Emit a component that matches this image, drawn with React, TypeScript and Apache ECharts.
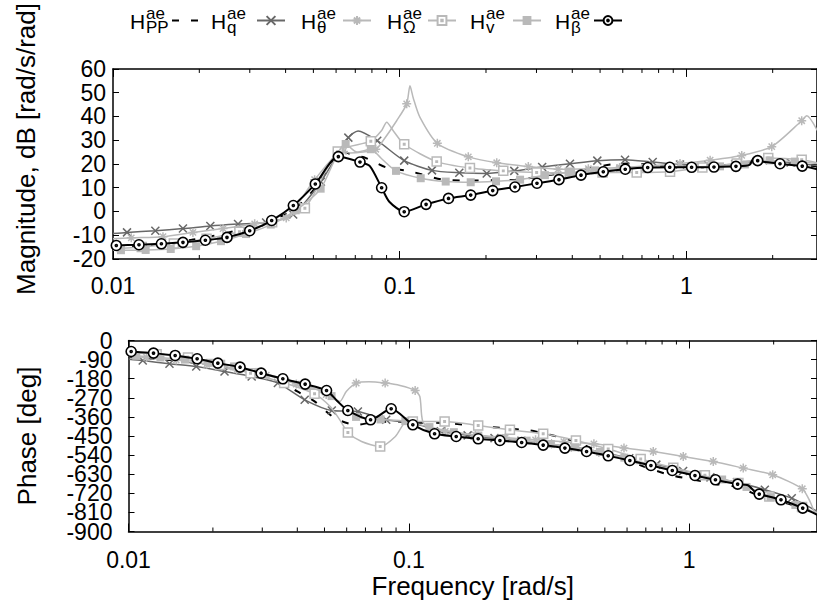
import React, { useEffect, useRef } from 'react';
import * as echarts from 'echarts';

// ---------- axes ----------
const xMin = 0.01;
const xMax = 2.855;
const xTickLabels = ['0.01', '0.1', '1'];
const minorTicks = [0.02, 0.03, 0.04, 0.05, 0.06, 0.07, 0.08, 0.09, 0.2, 0.3, 0.4, 0.5, 0.6, 0.7, 0.8, 0.9, 2];
const magMin = -20;
const magMax = 60;
const magStep = 10;
const phMin = -900;
const phMax = 0;
const phStep = 90;

// ---------- legend ----------
const subs = ['PP', 'q', 'θ', 'Ω', 'v', 'β'];
const sup = 'ae';
const names = subs.map((s) => `H_${s}^${sup}`);

// ---------- magnitude (dB) : marker points and extra curve points ----------
const magPP = [[0.01, -14.8], [0.0125, -14.5], [0.015, -13.6], [0.0188, -11.9], [0.0235, -9.8], [0.0259, -8.5], [0.03, -6.5], [0.036, -3.5], [0.043, 1.0], [0.05, 9.0], [0.057, 19.0], [0.062, 26.0], [0.068, 23.9], [0.075, 22.8], [0.081, 21.0], [0.09, 18.5], [0.1086, 16.9], [0.14, 13.5], [0.171, 13.0], [0.21, 13.2], [0.252, 13.3], [0.3, 14.5], [0.4, 17.0], [0.548, 19.8], [0.66, 20.2], [0.81, 19.1], [1.0, 18.8], [1.3, 19.0], [1.55, 19.3], [1.75, 21.5], [2.2, 20.5], [2.86, 19.0]];
const magPPMarks: number[][] = [];

const magQMarks = [[0.01119, -8.8], [0.01405, -8.1], [0.01754, -7.2], [0.02185, -6.1], [0.0273, -5.3], [0.0342, -4.6], [0.0425, -1.3], [0.0531, 12.5], [0.0662, 31.1], [0.0835, 29.8], [0.1037, 21.4], [0.1296, 17.3], [0.1614, 16.3], [0.2012, 16.0], [0.251, 17.1], [0.314, 18.7], [0.3926, 20.1], [0.489, 21.4], [0.611, 21.8], [0.763, 20.8], [0.95, 19.8], [1.19, 19.6], [1.48, 19.9], [1.85, 21.6], [2.31, 20.6]];
const magQ = [[0.01, -9.3], [0.0716, 33.9], [2.86, 19.3]];

const magThetaMarks = [[0.01158, -11.1], [0.01494, -10.6], [0.019, -8.8], [0.0242, -7.2], [0.0312, -5.2], [0.0402, -2.7], [0.0505, 13.4], [0.0636, 25.3], [0.0825, 26.2], [0.1058, 45.3], [0.1353, 28.7], [0.1735, 23.0], [0.218, 20.5], [0.281, 18.9], [0.357, 17.8], [0.455, 18.0], [0.585, 18.5], [0.744, 19.2], [0.95, 20.2], [1.21, 21.6], [1.56, 23.6], [1.985, 27.3], [2.525, 38.2]];
const magTheta = [[0.01, -11.5], [0.0671, 24.6], [0.0877, 30.0], [0.0976, 38.2], [0.1086, 52.9], [0.1115, 47.8], [0.1177, 39.6], [2.63, 40.3], [2.86, 34.1]];

const magOmegaMarks = [[0.0126, -15.0], [0.0163, -13.5], [0.0212, -11.5], [0.0276, -8.5], [0.0359, -4.5], [0.0467, 1.4], [0.0608, 25.3], [0.0793, 29.6], [0.1037, 28.3], [0.1346, 21.0], [0.1758, 18.3], [0.2298, 17.1], [0.3004, 16.4], [0.392, 16.3], [0.51, 16.4], [0.671, 16.4], [0.877, 16.7], [1.137, 18.5], [1.498, 20.2], [1.93, 22.5], [2.525, 21.8]];
const magOmega = [[0.01, -15.8], [0.0865, 34.1], [0.0901, 37.6], [0.0948, 34.1], [2.86, 20.5]];

const magVMarks = [[0.01066, -16.3], [0.013, -16.2], [0.0159, -15.8], [0.0195, -14.6], [0.0238, -12.5], [0.0291, -9.5], [0.0355, -5.5], [0.0434, 0.5], [0.053, 9.6], [0.0648, 28.4], [0.0793, 26.2], [0.0971, 17.1], [0.1184, 14.0], [0.1447, 12.6], [0.1769, 12.3], [0.2168, 12.7], [0.263, 13.4], [0.321, 15.3], [0.3926, 16.4], [0.48, 17.3], [0.587, 18.0], [0.717, 18.4], [0.876, 18.7], [1.07, 18.8], [1.31, 19.0], [1.6, 19.8], [1.95, 21.5], [2.39, 21.0]];
const magV = [[0.01, -16.3], [0.071, 25.0], [0.086, 22.5], [2.86, 20.2]];

const magBetaMarks = [[0.01027, -14.3], [0.01232, -14.0], [0.01475, -13.6], [0.01754, -13.0], [0.021, -12.1], [0.02498, -10.9], [0.02998, -8.1], [0.03577, -3.8], [0.04256, 2.5], [0.05078, 11.6], [0.0611, 23.1], [0.0727, 20.8], [0.0865, 10.0], [0.1037, -0.1], [0.1236, 3.0], [0.148, 5.5], [0.1769, 6.9], [0.2111, 8.8], [0.2524, 10.3], [0.3012, 11.9], [0.3594, 13.4], [0.429, 15.3], [0.513, 16.7], [0.612, 17.8], [0.733, 18.5], [0.875, 18.6], [1.043, 18.6], [1.248, 18.7], [1.489, 19.0], [1.773, 21.4], [2.121, 20.1], [2.536, 19.1]];
const magBeta = [[0.01, -14.4], [0.0787, 19.1], [0.092, 4.1], [1.66, 19.6], [1.72, 22.6], [2.86, 17.8]];

// ---------- phase (deg) ----------
const phPP = [[0.01, -78], [0.015, -95], [0.02, -118], [0.03, -160], [0.035, -195], [0.04, -240], [0.0461, -287], [0.0545, -366], [0.0649, -397], [0.075, -385], [0.09, -382], [0.105, -387], [0.136, -389], [0.182, -405], [0.27, -424], [0.318, -444], [0.4, -480], [0.5, -535], [0.6, -565], [0.7, -597], [0.85, -633], [1.04, -656], [1.25, -677], [1.5, -692], [1.8, -735], [2.2, -765], [2.5, -788], [2.86, -815]];
const phPPMarks: number[][] = [];

const phQMarks = [[0.01124, -94.2], [0.014, -109.8], [0.01744, -122.5], [0.022, -146], [0.0275, -170], [0.0341, -200.7], [0.0425, -279.4], [0.0531, -329.8], [0.0658, -334.5], [0.083, -373.7], [0.104, -390], [0.13, -428], [0.162, -447], [0.202, -460], [0.252, -472], [0.314, -487], [0.39, -503], [0.49, -527], [0.611, -555], [0.763, -585], [0.951, -615], [1.19, -645], [1.48, -668], [1.86, -703], [2.32, -743]];
const phQ = [[0.01, -88], [2.86, -805]];

const phThetaMarks = [[0.0116, -80], [0.0148, -92], [0.019, -112], [0.0243, -138], [0.031, -163], [0.0397, -205], [0.0507, -255], [0.0649, -200.7], [0.0823, -200.7], [0.1053, -235.6], [0.1349, -428], [0.1727, -445], [0.221, -457], [0.283, -468], [0.357, -477], [0.457, -486.8], [0.585, -507], [0.744, -523], [0.952, -546.6], [1.218, -570.1], [1.558, -601.3], [1.984, -632.8], [2.53, -698.8]];
const phTheta = [[0.01, -75], [0.0567, -287], [0.0598, -240], [0.072, -194], [0.093, -212], [0.1094, -264], [0.111, -350], [0.1127, -389], [0.12, -410], [2.7, -760], [2.78, -800], [2.86, -812]];

const phOmegaMarks = [[0.0126, -65], [0.0163, -80], [0.0212, -115], [0.02724, -153.9], [0.0359, -200], [0.04609, -251.3], [0.0606, -433.5], [0.079, -499.5], [0.1033, -381.7], [0.1341, -381.7], [0.1767, -400.5], [0.2293, -420.8], [0.3013, -439.6], [0.3943, -471.2], [0.514, -511.7], [0.671, -558.8], [0.877, -600], [1.137, -635], [1.498, -672], [1.93, -735], [2.525, -785]];
const phOmega = [[0.01, -58], [0.0524, -311], [0.0567, -374], [0.0678, -476], [0.0895, -452], [0.0965, -389], [2.86, -818]];

const phVMarks = [[0.01066, -72], [0.013, -80], [0.0159, -90], [0.0195, -105], [0.0238, -122], [0.0291, -148], [0.0355, -178], [0.0434, -215], [0.053, -262], [0.0648, -360], [0.0793, -372], [0.0971, -380], [0.1184, -408], [0.1447, -432], [0.1769, -448], [0.2168, -460], [0.263, -472], [0.321, -488], [0.3926, -503], [0.48, -525], [0.587, -552], [0.717, -582], [0.876, -608], [1.07, -632], [1.31, -655], [1.6, -690], [1.95, -738], [2.39, -775]];
const phV = [[0.01, -68], [2.86, -815]];

const phBetaMarks = [[0.01022, -51.8], [0.01228, -59.5], [0.01467, -70.5], [0.01757, -86.2], [0.02083, -106.7], [0.025, -125.6], [0.02972, -153.9], [0.03552, -180.5], [0.04266, -205.6], [0.05086, -235.6], [0.06058, -329.8], [0.073, -373.7], [0.08647, -321.9], [0.1033, -397.2], [0.1235, -439.6], [0.1475, -452.4], [0.1767, -463.2], [0.2112, -471.2], [0.2525, -480.6], [0.3013, -492.9], [0.3601, -507.0], [0.4303, -523.0], [0.514, -543.3], [0.614, -565.5], [0.73, -589.0], [0.87, -612.6], [1.048, -636.2], [1.24, -656.4], [1.488, -676.7], [1.777, -723.8], [2.124, -750.6], [2.539, -789.8]];
const phBeta = [[0.01, -50], [0.0555, -285], [1.62, -682], [1.72, -715], [2.86, -821]];

// ---------- styling ----------
const FONT = 'Liberation Sans, Arial, Helvetica, sans-serif';
const LIGHT = '#b9b9b9';
const MID = '#686868';
const SYM_X = 'path://M0,0L10,10M0,10L10,0';
const SYM_STAR = 'path://M5,0L5,10M0,5L10,5M1.5,1.5L8.5,8.5M1.5,8.5L8.5,1.5';
const SYM_SQ = 'path://M0,0L10,0L10,10L0,10Z M4.2,4.2L5.8,4.2L5.8,5.8L4.2,5.8Z';
const SYM_CIRC = 'path://M10,5A5,5 0 1 1 0,5A5,5 0 1 1 10,5Z M6,5A1,1 0 1 1 4,5A1,1 0 1 1 6,5Z';

const styles = [
  { symbol: 'none', size: 0, line: '#000', width: 2, dash: [7, 12], fill: '#000', stroke: '#000', bw: 0 },
  { symbol: SYM_X, size: 8, line: MID, width: 1.5, dash: 'solid', fill: MID, stroke: MID, bw: 1.5 },
  { symbol: SYM_STAR, size: 9, line: LIGHT, width: 1.5, dash: 'solid', fill: LIGHT, stroke: LIGHT, bw: 1.5 },
  { symbol: SYM_SQ, size: 9, line: LIGHT, width: 1.5, dash: 'solid', fill: '#fff', stroke: LIGHT, bw: 1.5 },
  { symbol: 'rect', size: 8, line: LIGHT, width: 1.5, dash: 'solid', fill: LIGHT, stroke: LIGHT, bw: 0 },
  { symbol: SYM_CIRC, size: 10, line: '#000', width: 2, dash: 'solid', fill: '#fff', stroke: '#000', bw: 1.6 },
];

// legend layout (pixels)
const legendTextLeft = [130, 211, 301, 387, 470, 555];
const legendIconLeft = [171, 256, 342, 427, 512, 593];

const magSets = [[magPPMarks, magPP], [magQMarks, magQ], [magThetaMarks, magTheta], [magOmegaMarks, magOmega], [magVMarks, magV], [magBetaMarks, magBeta]];
const phSets = [[phPPMarks, phPP], [phQMarks, phQ], [phThetaMarks, phTheta], [phOmegaMarks, phOmega], [phVMarks, phV], [phBetaMarks, phBeta]];

function build(marks: number[][], shape: number[][]) {
  return [
    ...marks.map((p) => ({ value: p })),
    ...shape.map((p) => ({ value: p, symbol: 'none' })),
  ].sort((a, b) => a.value[0] - b.value[0]);
}

function fmtX(v: number) {
  const e = Math.round(Math.log10(v)) + 2;
  return xTickLabels[e] ?? '';
}

function xAxes(gridIndex: number, labelMargin: number, name?: string) {
  const common = {
    type: 'log',
    logBase: 10,
    gridIndex,
    min: xMin,
    max: xMax,
    splitLine: { show: false },
    axisLine: { show: true, onZero: false, lineStyle: { color: '#000', width: 1.5 } },
    axisTick: { show: true, inside: true, length: 8, lineStyle: { color: '#000', width: 1 } },
  };
  return [
    {
      ...common,
      position: 'bottom',
      axisLabel: { show: true, margin: labelMargin, fontSize: 23, color: '#000', fontFamily: FONT, formatter: fmtX, showMaxLabel: false },
      name: name ?? '',
      nameLocation: 'middle',
      nameGap: 41,
      nameTextStyle: { fontSize: 26, color: '#000', fontFamily: FONT },
    },
    { ...common, position: 'top', axisLabel: { show: false } },
  ];
}

const labelStyle = { fontSize: 23, color: '#000', fontFamily: FONT };

// split = true: labels are shared between two left axes (even / odd multiples of the step)
function yAxes(gridIndex: number, min: number, max: number, step: number, name: string, nameGap: number, labelMargin: number, namePad: number[], split: boolean) {
  const common = {
    type: 'value',
    gridIndex,
    min,
    max,
    interval: step,
    splitLine: { show: false },
    axisLine: { show: true, onZero: false, lineStyle: { color: '#000', width: 1.5 } },
    axisTick: { show: true, inside: true, length: 6, lineStyle: { color: '#000', width: 1 } },
  };
  const parityFmt = (p: number) => (v: number) => (Math.abs(Math.round(v / step)) % 2 === p ? String(v) : '');
  const lh = split ? { lineHeight: 17 } : {};
  const axes: any[] = [
    {
      ...common,
      position: 'left',
      axisLabel: {
        ...labelStyle, ...lh, show: true, margin: labelMargin, showMinLabel: true, showMaxLabel: true,
        ...(split ? { formatter: parityFmt(0) } : {}),
      },
      name,
      nameLocation: 'middle',
      nameGap,
      nameTextStyle: { fontSize: 26, color: '#000', fontFamily: FONT, padding: namePad },
    },
    { ...common, position: 'right', axisLabel: { show: false } },
  ];
  if (split) {
    axes.push({
      ...common,
      position: 'left',
      axisLine: { show: false },
      axisTick: { show: false },
      axisLabel: { ...labelStyle, ...lh, show: true, margin: labelMargin, showMinLabel: false, showMaxLabel: false, formatter: parityFmt(1) },
    });
  }
  return axes;
}

function minorTickSeries(xIdx: number, yIdx: number, yLo: number, yHi: number) {
  return {
    type: 'custom',
    xAxisIndex: xIdx,
    yAxisIndex: yIdx,
    silent: true,
    clip: false,
    z: 5,
    data: minorTicks.map((f) => [f, yLo]),
    renderItem: (params: any, api: any) => {
      const f = api.value(0);
      const b = api.coord([f, yLo]);
      const t = api.coord([f, yHi]);
      return {
        type: 'group',
        children: [
          { type: 'line', shape: { x1: b[0], y1: b[1], x2: b[0], y2: b[1] - 4 }, style: { stroke: '#000', lineWidth: 1 } },
          { type: 'line', shape: { x1: t[0], y1: t[1], x2: t[0], y2: t[1] + 4 }, style: { stroke: '#000', lineWidth: 1 } },
        ],
      };
    },
  };
}

function curveSeries(i: number, sets: number[][][][], xIdx: number, yIdx: number) {
  const st = styles[i];
  return {
    type: 'line',
    name: names[i],
    xAxisIndex: xIdx,
    yAxisIndex: yIdx,
    data: build(sets[i][0], sets[i][1]),
    smooth: 0.25,
    symbol: st.symbol,
    symbolSize: st.size,
    showAllSymbol: true,
    z: 10 + i,
    lineStyle: { color: st.line, width: st.width, type: st.dash },
    itemStyle: { color: st.fill, borderColor: st.stroke, borderWidth: st.bw },
    emphasis: { disabled: true },
  };
}

function legendFor(i: number) {
  return {
    left: legendIconLeft[i],
    top: 15,
    padding: 0,
    itemWidth: 28,
    itemHeight: 11,
    selectedMode: false,
    data: [names[i]],
    formatter: () => '',
    ...(i === 0 ? { itemStyle: { opacity: 0 } } : {}),
  };
}

function legendTexts() {
  const out: any[] = [];
  subs.forEach((s, i) => {
    const x = legendTextLeft[i];
    out.push({ type: 'text', x, y: 21, style: { text: 'H', fontSize: 21, fontFamily: FONT, fill: '#000', align: 'left', verticalAlign: 'middle' } });
    out.push({ type: 'text', x: x + 16, y: 13.6, style: { text: sup, fontSize: 17, lineHeight: 13, fontFamily: FONT, fill: '#000', align: 'left', verticalAlign: 'middle' } });
    out.push({ type: 'text', x: x + 16, y: 27.6, style: { text: s, fontSize: 17, lineHeight: 13, fontFamily: FONT, fill: '#000', align: 'left', verticalAlign: 'middle' } });
  });
  return out;
}

export default function App() {
  const ref = useRef<HTMLDivElement>(null);
  useEffect(() => {
    if (!ref.current) return;
    const chart = echarts.init(ref.current, undefined, { renderer: 'svg' });
    const series: any[] = [];
    for (let i = 0; i < 6; i++) series.push(curveSeries(i, magSets as any, 0, 0));
    for (let i = 0; i < 6; i++) series.push(curveSeries(i, phSets as any, 2, 2));
    series.push(minorTickSeries(0, 0, magMin, magMax));
    series.push(minorTickSeries(2, 2, phMin, phMax));
    chart.setOption({
      animation: false,
      textStyle: { fontFamily: FONT },
      legend: subs.map((_, i) => legendFor(i)),
      graphic: legendTexts(),
      grid: [
        { left: 113, top: 63, right: 0, height: 196 },
        { left: 128.5, top: 340.5, right: 0, height: 191 },
      ],
      xAxis: [...xAxes(0, 15), ...xAxes(1, 17, 'Frequency [rad/s]')],
      yAxis: [
        ...yAxes(0, magMin, magMax, magStep, 'Magnitude, dB [rad/s/rad]', 74, 7, [0, 0, 0, 30], false),
        ...yAxes(1, phMin, phMax, phStep, 'Phase [deg]', 89, 16, [0, 0, 0, 0], true),
      ],
      series,
    });
    return () => chart.dispose();
  }, []);
  return <div ref={ref} style={{ position: 'absolute', left: 0, top: 0, width: 817, height: 612, background: '#fff' }} />;
}
